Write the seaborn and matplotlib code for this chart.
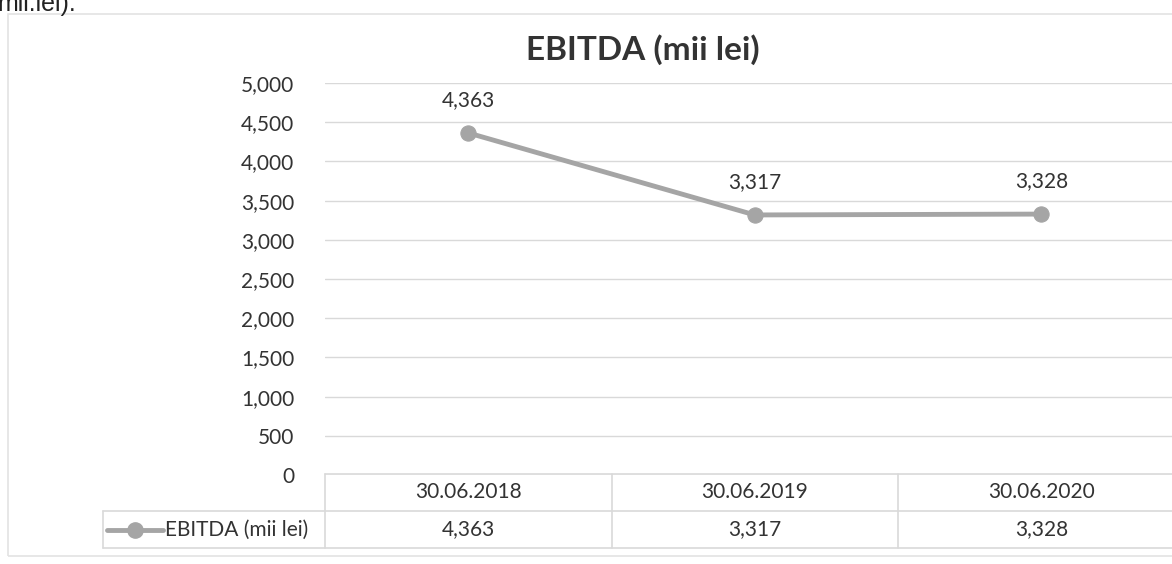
import pandas as pd
import seaborn as sns
import matplotlib.pyplot as plt
import matplotlib.transforms as mtransforms
from matplotlib.lines import Line2D
from matplotlib.patches import Rectangle
from matplotlib.ticker import FuncFormatter

# chart data
dates = ['30.06.2018', '30.06.2019', '30.06.2020']
ebitda = [4363, 3317, 3328]
series_name = 'EBITDA (mii lei)'
y_ticks = [0, 500, 1000, 1500, 2000, 2500, 3000, 3500, 4000, 4500, 5000]

df = pd.DataFrame({'date': dates, 'value': ebitda})

W, H = 1172, 564
line_col = '#a5a5a5'
grid_col = '#d9d9d9'
text_col = '#333333'

sns.set_theme(style='white')
plt.rcParams['font.family'] = ['Lato', 'DejaVu Sans']

fig = plt.figure(figsize=(W / 100, H / 100), dpi=100)

def fx(px):
    return px / W

def fy(py):
    return 1 - py / H

# plot area in pixels
left, right, top, bottom = 325, 1172, 83, 475
col_w = 286.5
ax = fig.add_axes([fx(left), fy(bottom), fx(right) - fx(left), fy(top) - fy(bottom)])

sns.lineplot(data=df, x='date', y='value', ax=ax, color=line_col, linewidth=3.5,
             marker='o', markersize=11, markeredgecolor=line_col, sort=False)

ax.set_ylim(0, 5000)
ax.set_xlim(-0.5, -0.5 + (right - left) / col_w)
ax.set_yticks(y_ticks)
ax.yaxis.set_major_formatter(FuncFormatter(lambda v, p: f'{int(v):,}'))
ax.tick_params(axis='y', length=0, pad=22, labelsize=15, labelcolor=text_col)
ax.set_xticks([])
ax.set_xlabel('')
ax.set_ylabel('')
ax.grid(axis='y', color=grid_col, linewidth=1)
for s in ax.spines.values():
    s.set_visible(False)

# data labels
for i, v in enumerate(ebitda):
    ax.annotate(f'{v:,}', (i, v), xytext=(0, 24), textcoords='offset points',
                ha='center', va='center', fontsize=15, color=text_col)

# title
fig.text(fx(643), fy(50), 'EBITDA (mii lei)', ha='center', va='center',
         fontsize=24, fontweight='bold', color=text_col)

# cut-off text from the page above the chart
fig.text(fx(-3), fy(11), 'mii.lei).', ha='left', va='baseline', fontsize=18,
         family=['Liberation Sans', 'DejaVu Sans'], color='#222222')

# chart frame
fig.add_artist(Rectangle((fx(8), fy(556)), fx(1180) - fx(8), fy(14) - fy(556),
                         transform=fig.transFigure, fill=False,
                         edgecolor='#e3e3e3', linewidth=1.2))

# data table under the chart
row_top, row_mid, row_bot = 474, 511, 548
legend_left = 103
tbl = dict(color=grid_col, linewidth=1.2, transform=fig.transFigure)
fig.add_artist(Line2D([fx(left), fx(W)], [fy(row_top)] * 2, **tbl))
fig.add_artist(Line2D([fx(legend_left), fx(W)], [fy(row_mid)] * 2, **tbl))
fig.add_artist(Line2D([fx(legend_left), fx(W)], [fy(row_bot)] * 2, **tbl))
fig.add_artist(Line2D([fx(legend_left)] * 2, [fy(row_mid), fy(row_bot)], **tbl))
fig.add_artist(Line2D([fx(left)] * 2, [fy(row_top), fy(row_bot)], **tbl))

blend = mtransforms.blended_transform_factory(ax.transData, fig.transFigure)
for i, (d, v) in enumerate(zip(dates, ebitda)):
    if i > 0:
        fig.add_artist(Line2D([i - 0.5, i - 0.5], [fy(row_top), fy(row_bot)],
                              color=grid_col, linewidth=1.2, transform=blend))
    fig.text(i, fy((row_top + row_mid) / 2), d, ha='center', va='center',
             fontsize=15, color=text_col, transform=blend)
    fig.text(i, fy((row_mid + row_bot) / 2), f'{v:,}', ha='center', va='center',
             fontsize=15, color=text_col, transform=blend)

# legend key inside the table
ymid = fy((row_mid + row_bot) / 2)
fig.add_artist(Line2D([fx(107), fx(163)], [ymid, ymid], color=line_col, linewidth=3.5,
                      transform=fig.transFigure))
fig.add_artist(Line2D([fx(135)], [ymid], color=line_col, marker='o', markersize=11,
                      linestyle='none', transform=fig.transFigure))
fig.text(fx(165), ymid, series_name, ha='left', va='center', fontsize=15,
         color=text_col)

fig.savefig('out.png', dpi=100, facecolor='white')
